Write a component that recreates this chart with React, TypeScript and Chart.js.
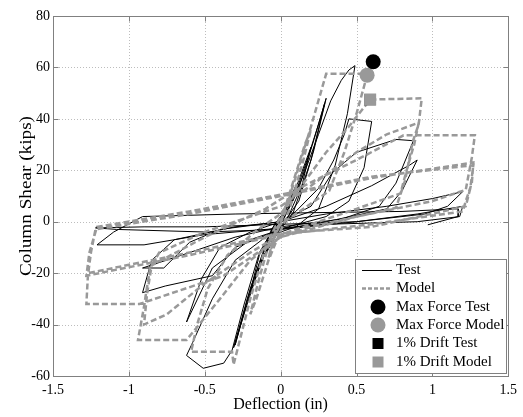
import { useEffect, useRef } from "react";
import { Chart, registerables } from "chart.js";

Chart.register(...registerables);

const xTickValues = [-1.5, -1, -0.5, 0, 0.5, 1, 1.5];
const yTickValues = [-60, -40, -20, 0, 20, 40, 60, 80];
const legendLabels = ["Test", "Model", "Max Force Test", "Max Force Model", "1% Drift Test", "1% Drift Model"];

const testDeflection = [
  0, 0.05, 0.1, 0.06, 0, -0.05, -0.1, -0.06, 0,
  0.1, 0.2, 0.14, 0.05, -0.1, -0.2, -0.14, -0.04,
  0.08, 0.18, 0.25, 0.3, 0.22, 0.12, 0, -0.12, -0.22, -0.31, -0.22, -0.1, 0.02,
  0.12, 0.22, 0.29, 0.2, 0.08, -0.1, -0.22, -0.3, -0.2, -0.06,
  0.05, 0.15, 0.25, 0.33, 0.4, 0.45, 0.49, 0.44, 0.36, 0.25, 0.1, -0.1, -0.3, -0.45, -0.58, -0.62, -0.51, -0.375, -0.32, -0.24, -0.14, -0.04,
  0.1, 0.25, 0.35, 0.42, 0.45, 0.6, 0.55, 0.45, 0.3, 0.05, -0.2, -0.45, -0.62, -0.52, -0.4, -0.2, 0,
  0.2, 0.34, 0.5, 0.76, 0.875, 0.76, 0.65, 0.4, 0, -0.3, -0.6, -0.91, -0.77, -0.6, -0.4, 0,
  0.3, 0.6, 0.85, 0.9, 0.8, 0.7, 0.3, 0, -0.3, -0.45, -0.76, -0.91, -0.85, -0.7, -0.3, 0,
  0.3, 0.7, 1.0, 1.2, 1.1, 0.95, 0.5, 0, -0.5, -0.9, -1.22, -1.08, -0.5, 0, 0.5, 0.9, 1.2, 1.18, 0.9, 0.3,
  -0.5, -0.9, -1.21, -1.1, -0.91, -0.3, 0.2, 0.8, 1.17, 1.17, 0.97,
];
const testShear = [
  0, 7, 14, 6, -1, -7, -13, -5, 1,
  13, 29, 14, 2, -12, -27, -13, -1,
  8, 25, 38, 48, 28, 8, -2, -14, -32, -49, -30, -9, 1,
  13, 32, 46, 24, 3, -10, -31, -48, -26, -3,
  5, 18, 34, 47, 55, 59, 60.7, 42, 22, 5, -2, -6, -15, -30, -47, -52, -57, -55, -50, -32, -12, -2,
  4, 13, 24, 34, 40, 39, 21, 8, 2, -2, -7, -18, -39, -22, -10, -4, 0,
  6, 19, 27, 32, 31.5, 15, 6, 1, -2, -6, -12, -18, -18, -8, -3, 0,
  6, 14, 22, 24, 12, 5, 0, -3, -10, -21, -25, -27.6, -15, -7, -2, 0,
  3, 6, 9, 11.7, 6, 3, 0, -1, -2, -2, -2.4, -3, -4, -3, 0, 3, 6, 2, 0, -1,
  -5, -9, -9, -4, 2, 3, 3.5, 4, 5, 2, -1.2,
];

const modelDeflection = [
  0, 0.05, 0.08, 0.04, -0.04, -0.08, -0.04, 0,
  0.08, 0.16, 0.2, 0.15, 0.06, -0.08, -0.16, -0.2, -0.15, -0.06,
  0.05, 0.1, 0.2, 0.3, 0.55, 0.57,
  0.5, 0.42, 0.32, 0.15, 0, -0.1, -0.2, -0.31, -0.32, -0.59,
  -0.55, -0.48, -0.35, -0.15, 0, 0.15, 0.3, 0.45, 0.59, 0.93,
  0.91, 0.87, 0.82, 0.76, 0.5, 0.2, 0, -0.2, -0.4, -0.62, -0.94,
  -0.9, -0.89, -0.86, -0.8, -0.5, -0.2, 0, 0.2, 0.5, 0.7, 0.91,
  0.88, 0.83, 0.79, 0.5, 0.2, 0, -0.2, -0.5, -0.75, -0.9,
  -0.88, -0.85, -0.5, -0.1, 0.1, 0.5, 0.81, 1.28,
  1.26, 1.22, 1.0, 0.5, 0, -0.375, -0.93, -1.28,
  -1.27, -1.25, -1.22, -0.6, 0, 0.6, 1.27,
  1.26, 1.22, 1.2, 0.6, 0, -0.6, -1.28,
  -1.26, -1.21, -0.6, 0, 0.6, 1.27,
  1.25, 1.22, 0.6, 0, -0.6, -1.27,
];
const modelShear = [
  0, 9, 14, 5, -6, -14, -5, 0,
  15, 30, 36, 24, 5, -15, -30, -36, -24, -5,
  8, 17.5, 37, 57.5, 57.5, 57,
  42, 27, 12, 5, -1, -10, -30, -55.6, -50.6, -50.6,
  -40, -26, -13, -3, 3, 15, 27, 37, 47.5, 48,
  38, 31, 16, 5.4, 2, -2, -6, -15, -30, -46, -46,
  -33, -29, -18, -12, -4, 2, 6, 14, 27, 34, 38.5,
  30, 20, 11, 5, -1, -5, -12, -24, -36, -40,
  -28, -17, -6, 5, 12.4, 24, 33.6, 33.6,
  25, 12.4, 8, 2, -6, -21, -32, -32,
  -21, -12, -3, 3, 10, 17, 23,
  15, 8, 4, -1, -5, -13, -21,
  -12, -2, 4, 10.5, 17.5, 22,
  13, 6, -2, -4.5, -12, -20,
];

const maxForceTest = [0.61, 62.2];
const maxForceModel = [0.57, 57];
const driftTest = [0.59, 47.5];
const driftModel = [0.59, 47.5];

const GRAY = "#999999";
const SERIF = '"Liberation Serif", "Times New Roman", serif';

const framePlugin = {
  id: "matlabFrame",
  beforeDatasetsDraw(chart: any) {
    const { ctx, chartArea: a, scales } = chart;
    ctx.save();
    ctx.strokeStyle = "#bdbdbd";
    ctx.lineWidth = 1;
    ctx.setLineDash([1, 2]);
    xTickValues.forEach((v) => {
      const px = Math.round(scales.x.getPixelForValue(v)) + 0.5;
      ctx.beginPath();
      ctx.moveTo(px, a.top);
      ctx.lineTo(px, a.bottom);
      ctx.stroke();
    });
    yTickValues.forEach((v) => {
      const py = Math.round(scales.y.getPixelForValue(v)) + 0.5;
      ctx.beginPath();
      ctx.moveTo(a.left, py);
      ctx.lineTo(a.right, py);
      ctx.stroke();
    });
    ctx.restore();
  },
  afterDraw(chart: any) {
    const { ctx, chartArea: a, scales } = chart;
    ctx.save();
    ctx.strokeStyle = "#808080";
    ctx.lineWidth = 1;
    ctx.setLineDash([]);
    const L = Math.round(a.left) + 0.5;
    const R = Math.round(a.right) + 0.5;
    const T = Math.round(a.top) + 0.5;
    const B = Math.round(a.bottom) + 0.5;
    ctx.strokeRect(L, T, R - L, B - T);
    const tl = 5;
    xTickValues.forEach((v) => {
      const px = Math.round(scales.x.getPixelForValue(v)) + 0.5;
      ctx.beginPath();
      ctx.moveTo(px, B);
      ctx.lineTo(px, B - tl);
      ctx.moveTo(px, T);
      ctx.lineTo(px, T + tl);
      ctx.stroke();
    });
    yTickValues.forEach((v) => {
      const py = Math.round(scales.y.getPixelForValue(v)) + 0.5;
      ctx.beginPath();
      ctx.moveTo(L, py);
      ctx.lineTo(L + tl, py);
      ctx.moveTo(R, py);
      ctx.lineTo(R - tl, py);
      ctx.stroke();
    });

    // axis titles
    ctx.fillStyle = "#000";
    ctx.font = `16px ${SERIF}`;
    ctx.textAlign = "center";
    ctx.textBaseline = "middle";
    ctx.fillText("Deflection (in)", (a.left + a.right) / 2, 405);
    ctx.save();
    ctx.translate(27, (a.top + a.bottom) / 2);
    ctx.rotate(-Math.PI / 2);
    ctx.scale(1.2, 1);
    ctx.fillText("Column Shear (kips)", 0, 0);
    ctx.restore();

    // legend
    const bx = 355.5, by = 259.5, bw = 151, bh = 114;
    ctx.fillStyle = "#fff";
    ctx.fillRect(bx, by, bw, bh);
    ctx.strokeStyle = "#808080";
    ctx.strokeRect(bx, by, bw, bh);
    const rows = [270, 288.5, 307, 325, 343.5, 362];
    const mx = 378;
    ctx.font = `15px ${SERIF}`;
    ctx.textAlign = "left";
    legendLabels.forEach((label, i) => {
      const y = rows[i];
      if (i === 0) {
        ctx.strokeStyle = "#000";
        ctx.lineWidth = 1;
        ctx.setLineDash([]);
        ctx.beginPath();
        ctx.moveTo(362, y + 0.5);
        ctx.lineTo(392, y + 0.5);
        ctx.stroke();
      } else if (i === 1) {
        ctx.strokeStyle = GRAY;
        ctx.lineWidth = 2.5;
        ctx.setLineDash([4, 2]);
        ctx.beginPath();
        ctx.moveTo(362, y);
        ctx.lineTo(392, y);
        ctx.stroke();
        ctx.setLineDash([]);
      } else if (i === 2 || i === 3) {
        ctx.fillStyle = i === 2 ? "#000" : GRAY;
        ctx.beginPath();
        ctx.arc(mx, y, 7.5, 0, Math.PI * 2);
        ctx.fill();
      } else {
        ctx.fillStyle = i === 4 ? "#000" : GRAY;
        ctx.fillRect(mx - 5.5, y - 5.5, 11, 11);
      }
      ctx.fillStyle = "#000";
      ctx.fillText(label, 396, y);
    });
    ctx.restore();
  },
};

function pts(xs: number[], ys: number[]) {
  return xs.map((x, i) => ({ x, y: ys[i] }));
}

export default function App() {
  const ref = useRef<HTMLCanvasElement | null>(null);
  useEffect(() => {
    if (!ref.current) return;
    const tickFont = { family: SERIF, size: 14 };
    const chart = new Chart(ref.current, {
      type: "scatter",
      data: {
        datasets: [
          {
            label: "Max Force Test",
            data: [{ x: maxForceTest[0], y: maxForceTest[1] }],
            pointStyle: "circle",
            pointRadius: 7.5,
            backgroundColor: "#000",
            borderColor: "#000",
            borderWidth: 0,
            order: 0,
          },
          {
            label: "Max Force Model",
            data: [{ x: maxForceModel[0], y: maxForceModel[1] }],
            pointStyle: "circle",
            pointRadius: 7.5,
            backgroundColor: GRAY,
            borderColor: GRAY,
            borderWidth: 0,
            order: 1,
          },
          {
            label: "1% Drift Model",
            data: [{ x: driftModel[0], y: driftModel[1] }],
            pointStyle: "rect",
            pointRadius: 8.5,
            backgroundColor: GRAY,
            borderColor: GRAY,
            borderWidth: 0,
            order: 2,
          },
          {
            label: "1% Drift Test",
            data: [{ x: driftTest[0], y: driftTest[1] }],
            pointStyle: "rect",
            pointRadius: 8,
            backgroundColor: "#000",
            borderColor: "#000",
            borderWidth: 0,
            order: 3,
          },
          {
            label: "Model",
            data: pts(modelDeflection, modelShear),
            showLine: true,
            borderColor: GRAY,
            borderWidth: 2.5,
            borderDash: [6, 3],
            pointRadius: 0,
            fill: false,
            order: 4,
          },
          {
            label: "Test",
            data: pts(testDeflection, testShear),
            showLine: true,
            borderColor: "#000",
            borderWidth: 1,
            pointRadius: 0,
            fill: false,
            order: 5,
          },
        ],
      },
      options: {
        animation: false,
        responsive: false,
        layout: { padding: { top: 16, right: 13, left: 0, bottom: 0 } },
        plugins: { legend: { display: false }, tooltip: { enabled: false } },
        scales: {
          x: {
            type: "linear",
            min: -1.5,
            max: 1.5,
            afterBuildTicks: (s: any) => {
              s.ticks = xTickValues.map((v) => ({ value: v }));
            },
            afterFit: (s: any) => {
              s.height = 41;
            },
            grid: { display: false, drawTicks: false },
            border: { display: false },
            ticks: {
              font: tickFont,
              color: "#000",
              padding: 6,
              maxRotation: 0,
              autoSkip: false,
              callback: (v: any) => String(v),
            },
          },
          y: {
            type: "linear",
            min: -60,
            max: 80,
            afterBuildTicks: (s: any) => {
              s.ticks = yTickValues.map((v) => ({ value: v }));
            },
            afterFit: (s: any) => {
              s.width = 53;
            },
            grid: { display: false, drawTicks: false },
            border: { display: false },
            ticks: {
              font: tickFont,
              color: "#000",
              padding: 3,
              autoSkip: false,
              callback: (v: any) => String(v),
            },
          },
        },
      },
      plugins: [framePlugin],
    } as any);
    return () => chart.destroy();
  }, []);
  return (
    <div style={{ position: "absolute", left: 0, top: 0, width: 523, height: 417, background: "#fff" }}>
      <canvas ref={ref} width={523} height={417} />
    </div>
  );
}
